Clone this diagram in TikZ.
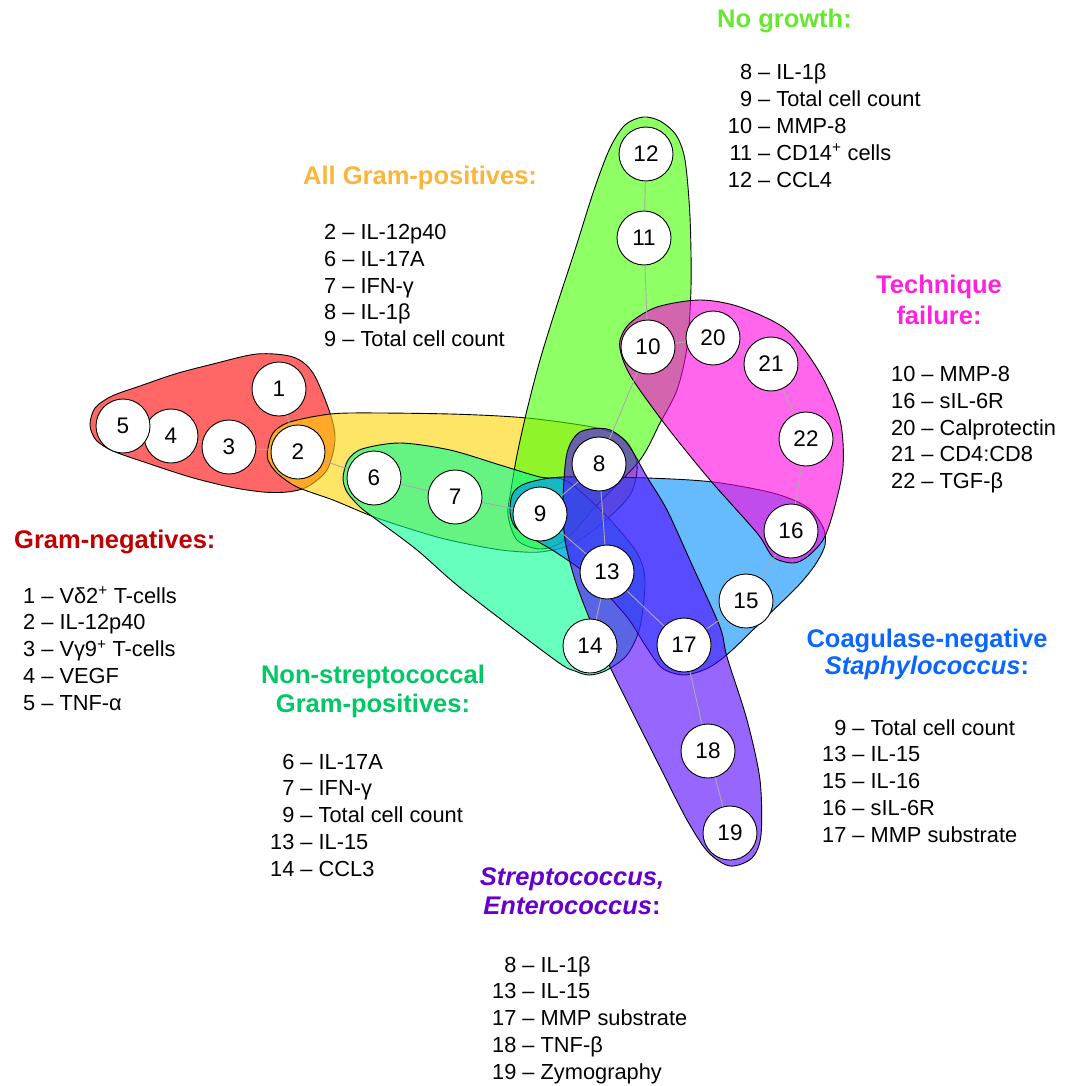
\documentclass[tikz,border=0pt]{standalone}
\usepackage{fontspec}
\setmainfont{Liberation Sans}
\definecolor{linkgray}{HTML}{AAAAAA}
% hull fills (drawn at 60% opacity)
\definecolor{hRed}{HTML}{FF0000}
\definecolor{hYellow}{HTML}{FFD400}
\definecolor{hLime}{HTML}{44FF00}
\definecolor{hMint}{HTML}{00FF93}
\definecolor{hSky}{HTML}{008EFF}
\definecolor{hMagenta}{HTML}{FF00DE}
\definecolor{hPurple}{HTML}{5000FF}
% heading colours
\definecolor{tRed}{HTML}{C00000}
\definecolor{tOrange}{HTML}{FBB43C}
\definecolor{tLime}{HTML}{66E833}
\definecolor{tGreen}{HTML}{00C864}
\definecolor{tSky}{HTML}{0A66FF}
\definecolor{tMagenta}{HTML}{FF22DD}
\definecolor{tPurple}{HTML}{6600CC}
\tikzset{
  marker/.style={circle, draw=black, line width=0.9pt, fill=white,
    minimum size=54pt, inner sep=0pt, font=\fontsize{22.5}{26}\selectfont},
  link/.style={draw=linkgray, line width=0.9pt},
  hull/.style={draw=black, line width=0.9pt, fill=#1, fill opacity=0.6},
  heading/.style={inner sep=0pt, font=\fontsize{25.5}{29.5}\selectfont\bfseries},
  listing/.style={inner sep=0pt, anchor=base west, font=\fontsize{21.8}{26.8}\selectfont},
}
\newcommand{\legendlist}[1]{\begin{tabular}[t]{@{}r@{\ –\ }l@{}}#1\end{tabular}}
\begin{document}
\begin{tikzpicture}[x=1pt, y=-1pt]
\useasboundingbox (0,0) rectangle (1075,1086);

% ---- group hulls ----
\path[hull=hRed] plot[smooth cycle] coordinates {(90,425) (95,408) (112,396) (140,386) (175,374) (213,364) (257,354) (293,357) (313,373) (330,413) (335,440) (327,470) (307,487) (287,492) (263,492) (230,487) (190,477) (147,463) (113,451) (96,440)};
\path[hull=hYellow] plot[smooth cycle] coordinates {(268,448) (273,433) (287,423) (317,416) (350,413) (450,414) (527,418) (597,428) (625,440) (637,465) (630,495) (600,525) (570,545) (540,552) (510,551) (483,547) (437,537) (377,518) (333,500) (297,487) (277,473) (268,460)};
\path[hull=hLime] plot[smooth cycle] coordinates {(643,117) (660,121) (676,135) (685,160) (690,217) (691,287) (687,347) (677,390) (660,423) (640,460) (600,502) (565,540) (540,549) (517,540) (508,515) (511,490) (517,455) (527,410) (540,360) (557,305) (575,250) (594,190) (610,148) (625,125)};
\path[hull=hMint] plot[smooth cycle] coordinates {(343,478) (348,460) (362,449) (400,443) (450,450) (500,465) (540,477) (565,480) (590,500) (613,523) (637,553) (645,580) (640,627) (627,655) (607,670) (590,675) (575,671) (555,660) (463,590) (417,550) (377,520) (360,507) (347,492)};
\path[hull=hSky] plot[smooth cycle] coordinates {(510,512) (513,493) (527,483) (563,477) (647,478) (713,482) (773,493) (807,507) (823,527) (825,545) (815,565) (797,587) (763,620) (730,652) (708,668) (684,675) (662,668) (645,645) (627,617) (590,577) (557,553) (530,537) (515,527)};
\path[hull=hMagenta] plot[smooth cycle] coordinates {(620,340) (630,323) (657,307) (700,300) (740,307) (787,330) (820,373) (840,420) (843,467) (833,513) (823,540) (807,557) (793,563) (773,557) (757,533) (710,480) (667,427) (633,380) (622,357)};
\path[hull=hPurple] plot[smooth cycle] coordinates {(563,500) (567,453) (580,432) (607,429) (627,443) (647,477) (667,510) (693,567) (720,627) (727,657) (747,720) (760,780) (761,835) (752,858) (730,866) (708,852) (687,820) (660,767) (610,667) (590,620) (575,580) (565,540)};

% ---- numbered markers ----
\node[marker] (n1) at (279,389) {1};
\node[marker] (n2) at (298,452) {2};
\node[marker] (n3) at (229,447) {3};
\node[marker] (n4) at (171,436) {4};
\node[marker] (n5) at (123,426) {5};
\node[marker] (n6) at (374,478) {6};
\node[marker] (n7) at (455,497) {7};
\node[marker] (n8) at (599,464) {8};
\node[marker] (n9) at (540,514) {9};
\node[marker] (n10) at (648,347) {10};
\node[marker] (n11) at (644,238) {11};
\node[marker] (n12) at (646,154) {12};
\node[marker] (n13) at (607,572) {13};
\node[marker] (n14) at (590,646) {14};
\node[marker] (n15) at (746,601) {15};
\node[marker] (n16) at (791,531) {16};
\node[marker] (n17) at (684,645) {17};
\node[marker] (n18) at (708,751) {18};
\node[marker] (n19) at (730,833) {19};
\node[marker] (n20) at (713,338) {20};
\node[marker] (n21) at (771,364) {21};
\node[marker] (n22) at (806,439) {22};

% ---- links between markers ----
\foreach \a/\b in {1/2, 3/2, 4/3, 2/6, 6/7, 7/9, 9/8, 8/10, 10/11, 11/12,
                   10/20, 20/21, 21/22, 22/16, 16/15, 15/17, 17/13, 13/9,
                   13/14, 8/13, 17/18, 18/19}
  \draw[link] (n\a) -- (n\b);

% ---- headings ----
\node[heading, text=tLime, anchor=base west] (hNoGrowth) at (717,28) {No growth:};
\node[heading, text=tOrange, anchor=base west] (hGramPos) at (303,185) {All Gram-positives:};
\node[heading, text=tMagenta, anchor=base] (hTechnique) at (939,293)
  {\begin{tabular}[t]{@{}c@{}}Technique\\[2pt]failure:\end{tabular}};
\node[heading, text=tRed, anchor=base west] (hGramNeg) at (14,548) {Gram-negatives:};
\node[heading, text=tSky, anchor=base] (hCoag) at (927,647)
  {\begin{tabular}[t]{@{}c@{}}Coagulase-negative\\[-2.5pt]\textit{Staphylococcus}:\end{tabular}};
\node[heading, text=tGreen, anchor=base] (hNonStrep) at (373,683)
  {\begin{tabular}[t]{@{}c@{}}Non-streptococcal\\Gram-positives:\end{tabular}};
\node[heading, text=tPurple, anchor=base] (hStrep) at (572,885)
  {\begin{tabular}[t]{@{}c@{}}\textit{Streptococcus,}\\[-0.5pt]\textit{Enterococcus}:\end{tabular}};

% ---- legends ----
\node[listing] (lNoGrowth) at (727.7,80) {\legendlist{8 & IL-1β\\ 9 & Total cell count\\ 10 & MMP-8\\ 11 & CD14\textsuperscript{+} cells\\ 12 & CCL4}};
\node[listing] (lGramPos) at (324,239.5) {\legendlist{2 & IL-12p40\\ 6 & IL-17A\\ 7 & IFN-γ\\ 8 & IL-1β\\ 9 & Total cell count}};
\node[listing] (lTechnique) at (891,381.5) {\legendlist{10 & MMP-8\\ 16 & sIL-6R\\ 20 & Calprotectin\\ 21 & CD4:CD8\\ 22 & TGF-β}};
\node[listing] (lGramNeg) at (23,603) {\legendlist{1 & Vδ2\textsuperscript{+} T-cells\\ 2 & IL-12p40\\ 3 & Vγ9\textsuperscript{+} T-cells\\ 4 & VEGF\\ 5 & TNF-α}};
\node[listing] (lCoag) at (822,735) {\legendlist{9 & Total cell count\\ 13 & IL-15\\ 15 & IL-16\\ 16 & sIL-6R\\ 17 & MMP substrate}};
\node[listing] (lNonStrep) at (270,769) {\legendlist{6 & IL-17A\\ 7 & IFN-γ\\ 9 & Total cell count\\ 13 & IL-15\\ 14 & CCL3}};
\node[listing] (lStrep) at (492,972) {\legendlist{8 & IL-1β\\ 13 & IL-15\\ 17 & MMP substrate\\ 18 & TNF-β\\ 19 & Zymography}};
\end{tikzpicture}
\end{document}
